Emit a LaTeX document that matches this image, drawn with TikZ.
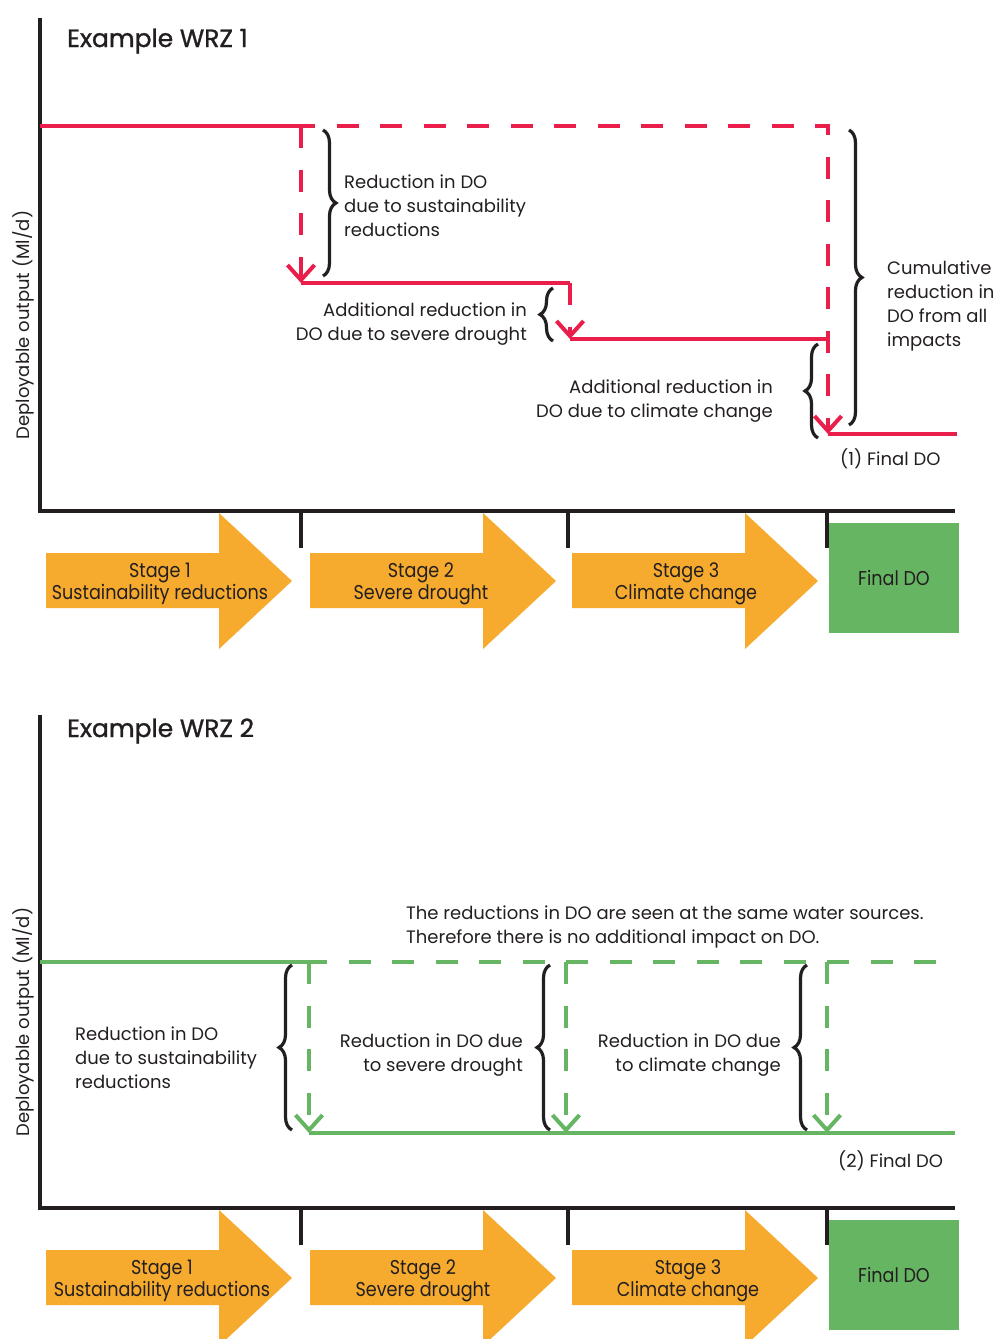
\documentclass[tikz,border=0pt]{standalone}
\usepackage{fontspec}
\setmainfont{Poppins}
\newfontfamily\narrowfont[FakeStretch=0.88]{Poppins}
\newfontfamily\titlefont[FakeBold=1.2]{Poppins}
\usetikzlibrary{positioning}
\usetikzlibrary{arrows.meta}
\usetikzlibrary{decorations.pathreplacing}
\definecolor{dored}{HTML}{E91E4B}
\definecolor{dogreen}{HTML}{66B562}
\definecolor{doorange}{HTML}{F6AB2F}
\definecolor{inkblack}{HTML}{231F20}

\begin{document}
\begin{tikzpicture}[
            x = 1pt, y = -1pt, % pixel grid, y pointing down
            > = {Straight Barb[length=15pt,width=27pt]}, % open arrow head
            axisline/.style = {draw = inkblack, line width = 4pt},
            tickmark/.style = {draw = inkblack, line width = 3.5pt},
            level/.style = {line width = 4pt},
            drop/.style = {level, dash pattern = on 22pt off 21.5pt, ->},
            curly/.style = {draw = inkblack, line width = 3.2pt, decorate,
                decoration = {brace, amplitude = 13pt}},
            labeltext/.style = {text = inkblack, inner sep = 0pt,
                font = \fontsize{18}{24}\selectfont},
            paneltitle/.style = {text = inkblack, inner sep = 0pt, anchor = west,
                font = \titlefont\fontsize{25}{30}\selectfont},
            stagefill/.style = {fill = doorange},
            stagetext/.style = {text = inkblack, inner sep = 0pt, align = center,
                font = \narrowfont\fontsize{20}{21.5}\selectfont},
            finalbox/.style = {fill = dogreen, minimum width = 130pt,
                minimum height = 110pt, text = inkblack,
                font = \narrowfont\fontsize{20}{22}\selectfont}
            ]

    \useasboundingbox (0,0) rectangle (997,1339);

    % ---------- panel 1 ----------
    \coordinate (o1) at (40,511);
    \draw[axisline] (40,18) -- (o1) -- (955,511);
    \draw[tickmark] (301,511) -- (301,548);
    \draw[tickmark] (568,511) -- (568,548);
    \draw[tickmark] (827,511) -- (827,548);
    \node[paneltitle] (title1) at (67,41) {Example WRZ 1};
    \node[labeltext, rotate = 90] (ylab1) at (23,325) {Deployable output (Ml/d)};

    % stage arrows
    \fill[stagefill] (46,553) -- (219,553) -- (219,513) -- (292,581) -- (219,649) -- (219,608) -- (46,608) -- cycle;
    \fill[stagefill] (310,553) -- (483,553) -- (483,513) -- (556,581) -- (483,649) -- (483,608) -- (310,608) -- cycle;
    \fill[stagefill] (572,553) -- (745,553) -- (745,513) -- (818,581) -- (745,649) -- (745,608) -- (572,608) -- cycle;
    \node[stagetext] (stage1a) at (160,584) {Stage 1\\Sustainability reductions};
    \node[stagetext] (stage2a) at (421,584) {Stage 2\\Severe drought};
    \node[stagetext] (stage3a) at (686,584) {Stage 3\\Climate change};
    \node[finalbox] (final1) at (894,578) {Final DO};

    % deployable output levels
    \coordinate (r0) at (40,126);
    \coordinate (r1) at (301,126);
    \coordinate (r2) at (828,126);
    \coordinate (s1) at (301,283);
    \coordinate (s2) at (570,283);
    \coordinate (c1) at (570,339);
    \coordinate (c2) at (828,339);
    \coordinate (f1) at (828,434);
    \coordinate (f2) at (957,434);

    \draw[level, dored] (r0) -- (r1);
    \draw[drop, dored, dash phase = 8pt] (r1) -- (r2) -- (f1);
    \draw[drop, dored] (r1) -- (s1);
    \draw[level, dored] (s1) -- (s2);
    \draw[drop, dored] (s2) -- (c1);
    \draw[level, dored] (c1) -- (c2);
    \draw[level, dored] (f1) -- (f2);

    % braces and labels
    \draw[curly] (323,130) -- (323,276);
    \draw[curly] (553,341) -- (553,288);
    \draw[curly] (818,438) -- (818,344);
    \draw[curly] (849,130) -- (849,425);
    \node[labeltext, anchor = west, align = left] (sust1) at (344,206) {Reduction in DO\\due to sustainability\\reductions};
    \node[labeltext, anchor = east, align = right] (drought1) at (527,324) {Additional reduction in\\DO due to severe drought};
    \node[labeltext, anchor = east, align = right] (climate1) at (773,401) {Additional reduction in\\DO due to climate change};
    \node[labeltext, anchor = west, align = left] (cumul1) at (887,306) {Cumulative\\reduction in\\DO from all\\impacts};
    \node[labeltext, below right = 14pt and 12pt of f1] (finallab1) {(1) Final DO};

    % ---------- panel 2 ----------
    \begin{scope}[shift = {(0,697)}]
    \coordinate (o2) at (40,511);
    \draw[axisline] (40,18) -- (o2) -- (955,511);
    \draw[tickmark] (301,511) -- (301,548);
    \draw[tickmark] (568,511) -- (568,548);
    \draw[tickmark] (827,511) -- (827,548);
    \node[paneltitle] (title2) at (67,34) {Example WRZ 2};
    \node[labeltext, rotate = 90] (ylab2) at (23,325) {Deployable output (Ml/d)};

    % stage arrows
    \fill[stagefill] (46,553) -- (219,553) -- (219,513) -- (292,581) -- (219,649) -- (219,608) -- (46,608) -- cycle;
    \fill[stagefill] (310,553) -- (483,553) -- (483,513) -- (556,581) -- (483,649) -- (483,608) -- (310,608) -- cycle;
    \fill[stagefill] (572,553) -- (745,553) -- (745,513) -- (818,581) -- (745,649) -- (745,608) -- (572,608) -- cycle;
    \node[stagetext] (stage1b) at (162,584) {Stage 1\\Sustainability reductions};
    \node[stagetext] (stage2b) at (423,584) {Stage 2\\Severe drought};
    \node[stagetext] (stage3b) at (688,584) {Stage 3\\Climate change};
    \node[finalbox] (final2) at (894,578) {Final DO};

    % deployable output levels
    \coordinate (g0) at (40,265);
    \coordinate (g1) at (309,265);
    \coordinate (g2) at (566,265);
    \coordinate (g3) at (827,265);
    \coordinate (g4) at (952,265);
    \coordinate (h1) at (309,436);
    \coordinate (h2) at (566,436);
    \coordinate (h3) at (827,436);
    \coordinate (h4) at (955,436);

    \draw[level, dogreen] (g0) -- (g1);
    \draw[level, dogreen, dash pattern = on 22pt off 21.5pt, dash phase = 4pt] (g1) -- (g4);
    \draw[drop, dogreen] (g1) -- (h1);
    \draw[drop, dogreen] (g2) -- (h2);
    \draw[drop, dogreen] (g3) -- (h3);
    \draw[level, dogreen] (h1) -- (h4);

    % braces and labels
    \draw[curly] (292,433) -- (292,268);
    \draw[curly] (550,433) -- (550,268);
    \draw[curly] (807,433) -- (807,268);
    \node[labeltext, anchor = west, align = left] (note2) at (406,230) {The reductions in DO are seen at the same water sources.\\Therefore there is no additional impact on DO.};
    \node[labeltext, anchor = west, align = left] (sust2) at (75,361) {Reduction in DO\\due to sustainability\\reductions};
    \node[labeltext, anchor = east, align = right] (drought2) at (523,358) {Reduction in DO due\\to severe drought};
    \node[labeltext, anchor = east, align = right] (climate2) at (781,358) {Reduction in DO due\\to climate change};
    \node[labeltext, below right = 17pt and 11pt of h3] (finallab2) {(2) Final DO};
    \end{scope}

\end{tikzpicture}
\end{document}
